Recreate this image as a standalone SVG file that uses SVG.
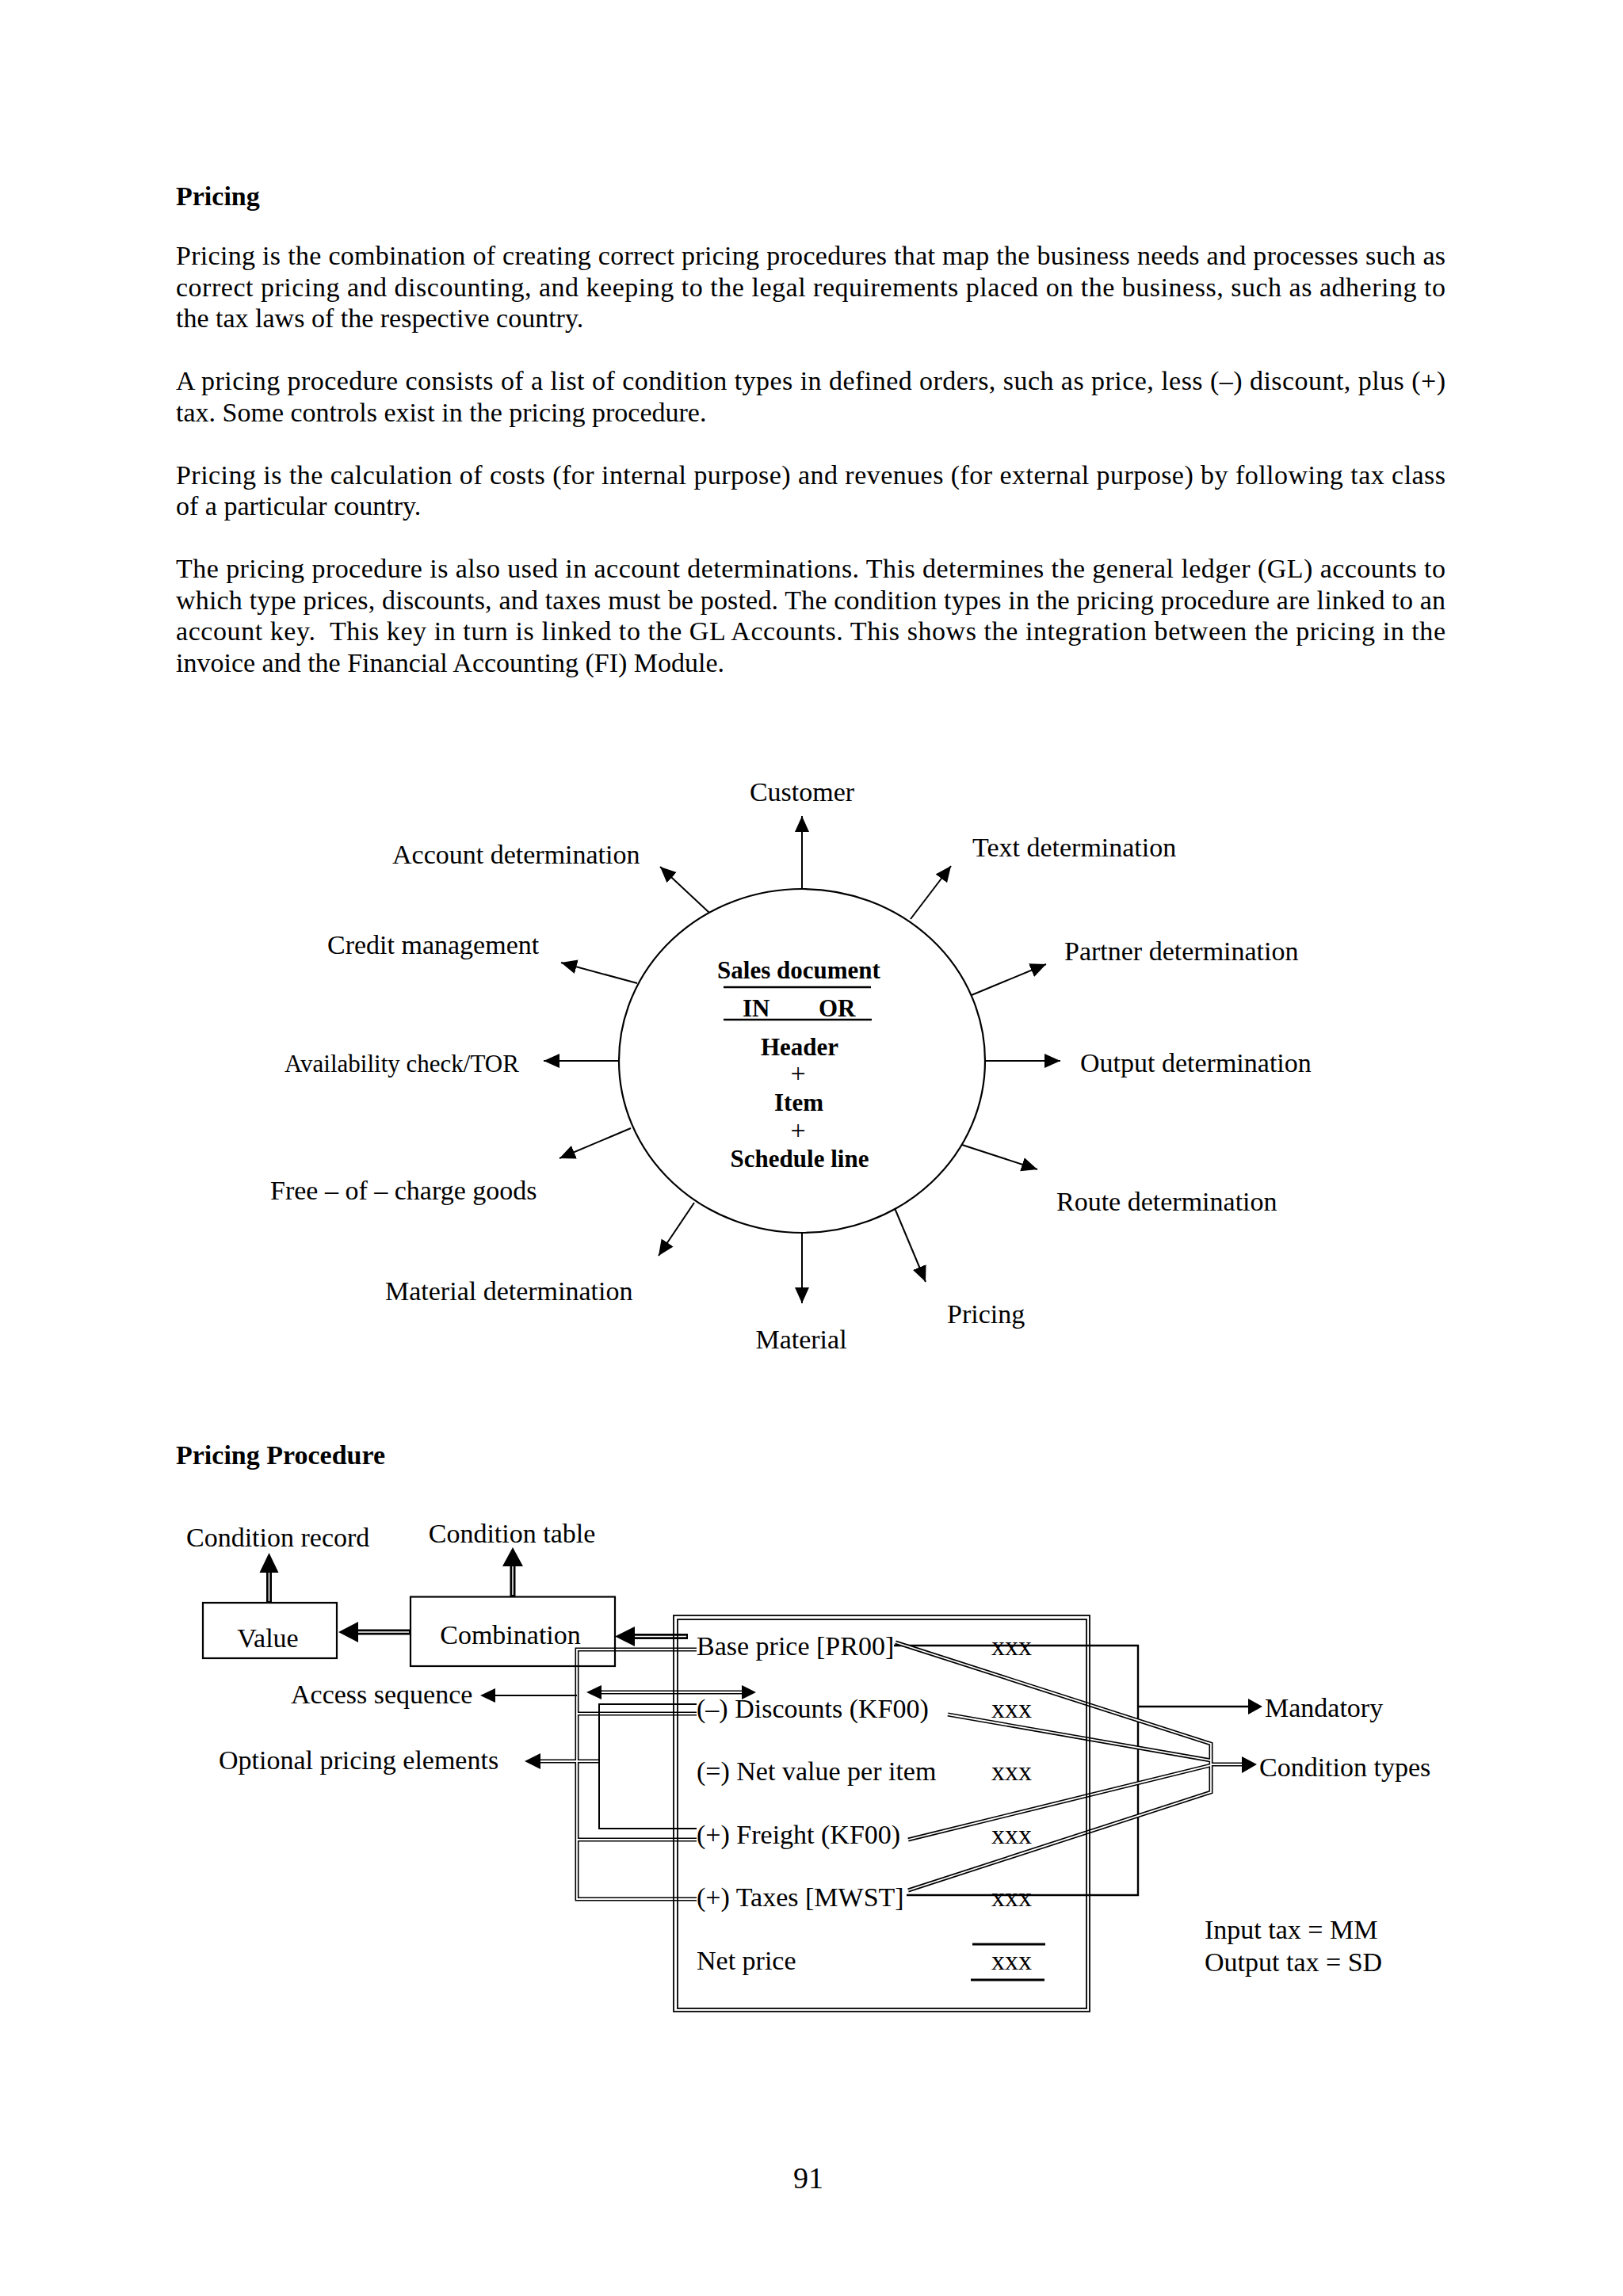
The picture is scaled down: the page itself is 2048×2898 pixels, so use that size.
<svg xmlns="http://www.w3.org/2000/svg" width="2048" height="2898" viewBox="0 0 2048 2898">
<style>
.t{font-family:"Liberation Serif","Times New Roman",serif;font-size:34px;fill:#000}
.b{font-weight:bold}
.s{font-size:31px}
.m{text-anchor:middle}
.ln{stroke:#000;stroke-width:2;fill:none}
.ln2{stroke:#000;stroke-width:2.4;fill:none}
.dO{stroke:#000;stroke-width:5;fill:none}
.dI{stroke:#fff;stroke-width:1.8;fill:none}
.kO{stroke:#000;stroke-width:7;fill:none}
.kI{stroke:#fff;stroke-width:1.5;fill:none}
.box{fill:#fff;stroke:#000;stroke-width:2.2}
.hd{fill:#000;stroke:none}
</style>
<defs>
<marker id="ah" markerUnits="userSpaceOnUse" markerWidth="22" markerHeight="20" refX="20" refY="9" orient="auto">
<path d="M0,0 L20,9 L0,18 z" fill="#000"/>
</marker>
</defs>
<rect width="2048" height="2898" fill="#fff"/>

<g id="body-text" class="t">
<text x="222" y="259" class="t b">Pricing</text>
<text x="222" y="334" textLength="1602" lengthAdjust="spacing">Pricing is the combination of creating correct pricing procedures that map the business needs and processes such as</text>
<text x="222" y="373.5" textLength="1602" lengthAdjust="spacing">correct pricing and discounting, and keeping to the legal requirements placed on the business, such as adhering to</text>
<text x="222" y="413">the tax laws of the respective country.</text>
<text x="222" y="492" textLength="1602" lengthAdjust="spacing">A pricing procedure consists of a list of condition types in defined orders, such as price, less (–) discount, plus (+)</text>
<text x="222" y="531.5">tax. Some controls exist in the pricing procedure.</text>
<text x="222" y="610.5" textLength="1602" lengthAdjust="spacing">Pricing is the calculation of costs (for internal purpose) and revenues (for external purpose) by following tax class</text>
<text x="222" y="650">of a particular country.</text>
<text x="222" y="729" textLength="1602" lengthAdjust="spacing">The pricing procedure is also used in account determinations. This determines the general ledger (GL) accounts to</text>
<text x="222" y="768.5" textLength="1602" lengthAdjust="spacing">which type prices, discounts, and taxes must be posted. The condition types in the pricing procedure are linked to an</text>
<text x="222" y="808" textLength="1602" lengthAdjust="spacing" xml:space="preserve">account key.  This key in turn is linked to the GL Accounts. This shows the integration between the pricing in the</text>
<text x="222" y="847.5">invoice and the Financial Accounting (FI) Module.</text>
<text x="222" y="1848" class="t b">Pricing Procedure</text>
<text x="1020" y="2762" class="t m" style="font-size:38px">91</text>
</g>

<g id="connectors">
<g id="circle-arrows" class="ln" marker-end="url(#ah)">
<line x1="1012" y1="1122" x2="1012" y2="1030"/>
<line x1="895" y1="1152" x2="833" y2="1094"/>
<line x1="1149" y1="1160" x2="1200" y2="1093"/>
<line x1="804" y1="1241" x2="708" y2="1215"/>
<line x1="1226" y1="1256" x2="1320" y2="1217"/>
<line x1="780" y1="1339" x2="686" y2="1339"/>
<line x1="1243" y1="1339" x2="1338" y2="1339"/>
<line x1="796" y1="1424" x2="706" y2="1462"/>
<line x1="1214" y1="1445" x2="1309" y2="1476"/>
<line x1="876" y1="1518" x2="831" y2="1585"/>
<line x1="1012" y1="1556" x2="1012" y2="1645"/>
<line x1="1129" y1="1525" x2="1168" y2="1618"/>
</g>

<g id="thick-arrows">
<path class="kO" d="M518,2060 H450 M868,2065.5 H799 M339.5,2023 V1983 M647,2015 V1975"/>
<path class="kI" d="M516,2060 H452 M866,2065.5 H801 M339.5,2021 V1985 M647,2013 V1977"/>
<polygon class="hd" points="427,2060 452,2047 452,2073"/>
<polygon class="hd" points="776,2065.5 801,2053 801,2078"/>
<polygon class="hd" points="339.5,1960 327.5,1985 351.5,1985"/>
<polygon class="hd" points="647,1953 634,1977 660,1977"/>
</g>

<g id="left-links">
<path class="dO" d="M879,2082 H728 V2397 H879 M728,2163 H879 M728,2322 H879 M759,2136 H936 M756,2223 H680"/>
<path class="dI" d="M879,2082 H728 V2397 H879 M728,2163 H879 M728,2322 H879 M759,2136 H936 M756,2223 H682"/>
<path class="ln" d="M879,2151 H756 V2308 H879 M728,2140 H624"/>
<polygon class="hd" points="606,2140 625,2131 625,2149"/>
<polygon class="hd" points="662,2223 682,2213 682,2233"/>
<polygon class="hd" points="740,2136 759,2127 759,2145"/>
<polygon class="hd" points="954,2136 936,2127 936,2145"/>
</g>

<g id="right-links">
<path class="ln2" d="M1128,2077 H1436 V2392 H1144 M1436,2154 H1575"/>
<polygon class="hd" points="1593,2154 1575,2144 1575,2164"/>
<path class="dO" d="M1130,2073 L1528,2201 V2262 L1146,2386 M1196,2164 L1528,2222 M1146,2322 L1528,2228 M1528,2227 H1569"/>
<path class="dI" d="M1130,2073 L1528,2201 V2262 L1146,2386 M1196,2164 L1528,2222 M1146,2322 L1528,2228 M1528,2227 H1570"/>
<polygon class="hd" points="1586,2227 1567,2217 1567,2238"/>
</g>
</g>

<g id="sales-document">
<ellipse cx="1012" cy="1339" rx="231" ry="217" fill="none" stroke="#000" stroke-width="2.2"/>
<text x="1008" y="1235" class="t b s m">Sales document</text>
<line x1="913" y1="1246" x2="1099" y2="1246" stroke="#000" stroke-width="2.5"/>
<text x="937" y="1283" class="t b s">IN</text>
<text x="1033" y="1283" class="t b s">OR</text>
<line x1="913" y1="1287" x2="1100" y2="1287" stroke="#000" stroke-width="2.5"/>
<text x="1009" y="1332" class="t b s m">Header</text>
<text x="1007" y="1366" class="t m">+</text>
<text x="1008" y="1402" class="t b s m">Item</text>
<text x="1007" y="1438" class="t m">+</text>
<text x="1009" y="1473" class="t b s m">Schedule line</text>
</g>

<g id="circle-labels" class="t">
<text id="lbl-customer" x="1012" y="1011" class="t m">Customer</text>
<text id="lbl-account" x="495" y="1090">Account determination</text>
<text id="lbl-text" x="1227" y="1081">Text determination</text>
<text id="lbl-credit" x="413" y="1204">Credit management</text>
<text id="lbl-partner" x="1343" y="1212">Partner determination</text>
<text id="lbl-avail" x="359" y="1353" class="t s">Availability check/TOR</text>
<text id="lbl-output" x="1363" y="1353">Output determination</text>
<text id="lbl-free" x="341" y="1514">Free – of – charge goods</text>
<text id="lbl-route" x="1333" y="1528">Route determination</text>
<text id="lbl-matdet" x="486" y="1641">Material determination</text>
<text id="lbl-pricing" x="1195" y="1670">Pricing</text>
<text id="lbl-material" x="1011" y="1702" class="t m">Material</text>
</g>

<g id="node-value">
<rect class="box" x="256" y="2023" width="169" height="70"/>
<text x="338" y="2079" class="t m">Value</text>
</g>
<g id="node-combination">
<rect x="518" y="2015.5" width="258" height="87.5" fill="none" stroke="#000" stroke-width="2.2"/>
<text x="644" y="2074.5" class="t m">Combination</text>
</g>
<g id="lbl-condition-record"><text x="235" y="1952" class="t">Condition record</text></g>
<g id="lbl-condition-table"><text x="646" y="1947" class="t m">Condition table</text></g>
<g id="lbl-access"><text x="367" y="2150" class="t">Access sequence</text></g>
<g id="lbl-optional"><text x="276" y="2233" class="t">Optional pricing elements</text></g>

<g id="node-procedure">
<rect x="850" y="2039" width="525" height="500" fill="none" stroke="#000" stroke-width="1.8"/>
<rect x="855" y="2044" width="516" height="491" fill="none" stroke="#000" stroke-width="1.8"/>
<text x="879" y="2089" class="t">Base price [PR00]</text>
<text x="879" y="2168" class="t">(–) Discounts (KF00)</text>
<text x="879" y="2247" class="t">(=) Net value per item</text>
<text x="879" y="2327" class="t">(+) Freight (KF00)</text>
<text x="879" y="2406" class="t">(+) Taxes [MWST]</text>
<text x="879" y="2486" class="t">Net price</text>
<text x="1251" y="2089" class="t">xxx</text>
<text x="1251" y="2168" class="t">xxx</text>
<text x="1251" y="2247" class="t">xxx</text>
<text x="1251" y="2327" class="t">xxx</text>
<text x="1251" y="2406" class="t">xxx</text>
<text x="1251" y="2486" class="t">xxx</text>
<line x1="1227" y1="2454" x2="1319" y2="2454" stroke="#000" stroke-width="3"/>
<line x1="1225" y1="2499" x2="1318" y2="2499" stroke="#000" stroke-width="3"/>
</g>

<g id="lbl-mandatory"><text x="1596" y="2167" class="t">Mandatory</text></g>
<g id="lbl-condition-types"><text x="1589" y="2242" class="t">Condition types</text></g>
<g id="lbl-tax">
<text x="1520" y="2447" class="t">Input tax = MM</text>
<text x="1520" y="2488" class="t">Output tax = SD</text>
</g>
</svg>
